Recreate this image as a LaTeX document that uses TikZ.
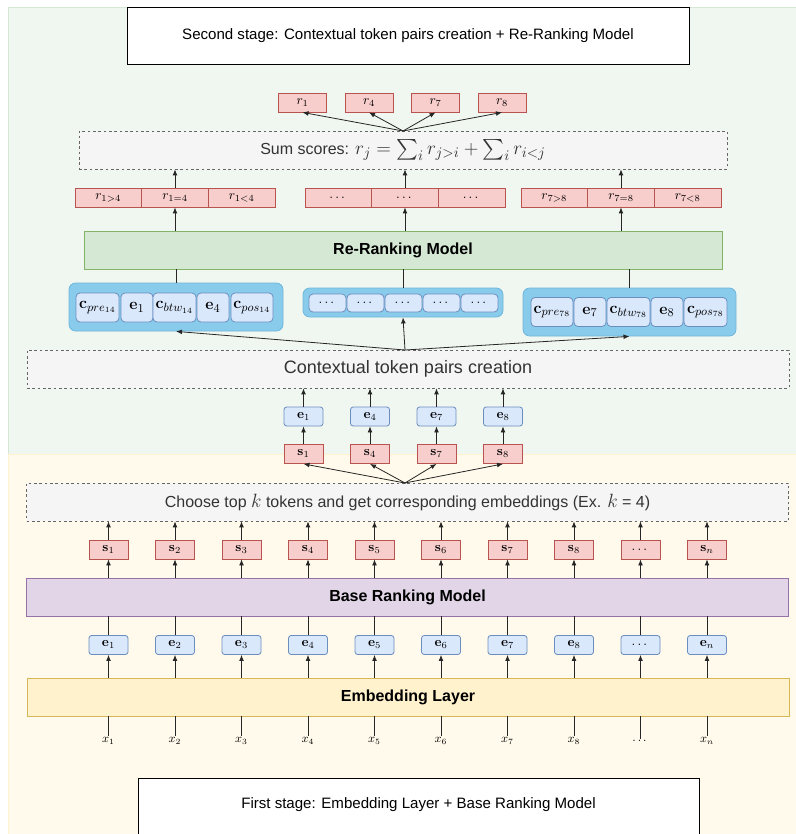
\documentclass[tikz,border=0pt]{standalone}
\usepackage{amsmath}
\usepackage{amssymb}
\usepackage[no-math]{fontspec}
\setmainfont{Liberation Sans}
\usetikzlibrary{arrows.meta}
\tikzset{>={Latex[length=4.5pt,width=3.6pt]}}

\definecolor{redfill}{HTML}{F8CECC}
\definecolor{redline}{HTML}{B85450}
\definecolor{bluefill}{HTML}{DAE8FC}
\definecolor{blueline}{HTML}{6C8EBF}
\definecolor{greenfill}{HTML}{D5E8D4}
\definecolor{greenline}{HTML}{82B366}
\definecolor{purplefill}{HTML}{E1D5E7}
\definecolor{purpleline}{HTML}{9673A6}
\definecolor{yellowfill}{HTML}{FFF2CC}
\definecolor{yellowline}{HTML}{D6B656}
\definecolor{grayfill}{HTML}{F5F5F5}
\definecolor{grayline}{HTML}{666666}
\definecolor{graytext}{HTML}{333333}
\definecolor{groupfill}{HTML}{88CBEA}
\definecolor{groupline}{HTML}{6FB5DD}

\tikzset{
  redbox/.style={draw=redline, fill=redfill, line width=0.6pt, inner sep=0pt,
    minimum width=29.25pt, minimum height=14.25pt, font=\fontsize{10}{11}\selectfont},
  bluebox/.style={redbox, draw=blueline, fill=bluefill, rounded corners=2pt},
  redcell/.style={redbox, minimum width=50pt},
  ccell/.style={draw=blueline, fill=bluefill, line width=0.6pt, rounded corners=3pt,
    inner sep=0pt, minimum height=21.75pt, font=\fontsize{12.5}{13}\selectfont},
  cgroup/.style={draw=groupline, fill=groupfill, line width=0.6pt, rounded corners=5pt},
  layer/.style={line width=0.6pt, minimum width=571.5pt, minimum height=28.5pt,
    font=\bfseries\fontsize{12}{14}\selectfont},
  dashbox/.style={draw=grayline, fill=grayfill, text=graytext, dash pattern=on 2pt off 2pt,
    line width=0.5pt, minimum width=571.5pt, minimum height=28.5pt,
    font=\fontsize{12}{14}\selectfont},
  xlab/.style={inner sep=1pt, font=\fontsize{9}{10}\selectfont},
  link/.style={draw=black!85, line width=0.6pt},
}

\begin{document}
\begin{tikzpicture}[x=0.75pt,y=-0.75pt]
\useasboundingbox (0,0) rectangle (795,834);

% two stages
\draw[draw=greenfill, fill=greenfill!35, line width=0.6pt] (8,7) rectangle (805,454);
\draw[draw=yellowfill, fill=yellowfill!40, line width=0.6pt] (8,454) rectangle (805,845);

\node[draw=black, fill=white, line width=0.6pt, minimum width=421.5pt, minimum height=42.75pt,
  font=\fontsize{11.3}{13}\selectfont] (stage2) at (408,35.5)
  {Second stage: Contextual token pairs creation + Re-Ranking Model};
\draw[draw=black, fill=white, line width=0.6pt] (138,778) rectangle (699,845);
\node[font=\fontsize{11.3}{13}\selectfont] (stage1) at (418.5,805)
  {First stage: Embedding Layer + Base Ranking Model};

% layers
\node[layer, draw=yellowline, fill=yellowfill] (emb) at (408,697) {Embedding Layer};
\node[layer, draw=purpleline, fill=purplefill] (base) at (407.5,597) {Base Ranking Model};
\node[dashbox] (choose) at (407.5,502)
  {Choose top {\fontsize{14}{14}\selectfont$k$} tokens and get corresponding embeddings
   (Ex. {\fontsize{14}{14}\selectfont$k$} = 4)};
\node[dashbox, font=\fontsize{13.5}{15}\selectfont] (ctx) at (408,369)
  {Contextual token pairs creation};
\node[layer, draw=greenline, fill=greenfill, minimum width=478.5pt] (rr) at (403,250)
  {Re-Ranking Model};
\node[dashbox, minimum width=486pt] (sum) at (403,150)
  {Sum scores: {\fontsize{15.5}{16}\selectfont$r_j = \sum_i r_{j>i} + \sum_i r_{i<j}$}};

\coordinate (chs) at (405,483);
\coordinate (cts) at (405,350);
\coordinate (sms) at (403,131);

% first stage: all tokens
\foreach \k [count=\i] in {1,2,3,4,5,6,7,8,0,n} {
  \ifnum\i=9
    \def\sl{$\dots$}\def\el{$\dots$}\def\xl{$\dots$}
  \else
    \def\sl{$\mathbf{s}_\k$}\def\el{$\mathbf{e}_\k$}\def\xl{$x_\k$}
  \fi
  \node[redbox] (s\i) at (42+66.5*\i,549.5) {\sl};
  \node[bluebox] (e\i) at (42+66.5*\i,645) {\el};
  \node[xlab] (x\i) at (42+66.5*\i,741) {\xl};
  \draw[link] (x\i) -- (emb.south -| x\i);
  \draw[link,->] (emb.north -| e\i) -- (e\i);
  \draw[link] (e\i) -- (base.south -| e\i);
  \draw[link,->] (base.north -| s\i) -- (s\i);
  \draw[link,->] (s\i) -- (choose.south -| s\i);
}

% top k tokens and final scores
\foreach \k [count=\i] in {1,4,7,8} {
  \node[redbox] (ts\i) at (237+66.5*\i,454) {$\mathbf{s}_\k$};
  \node[bluebox] (te\i) at (237+66.5*\i,416.5) {$\mathbf{e}_\k$};
  \node[redbox, minimum width=36pt] (r\i) at (236+66.5*\i,102.5) {$r_\k$};
  \draw[link,->] (chs) -- (ts\i.south);
  \draw[link,->] (ts\i) -- (te\i);
  \draw[link,->] (te\i) -- (ctx.south -| te\i);
  \draw[link,->] (sms) -- (r\i.south);
}

% contextual pairs
\node[cgroup, minimum width=160.5pt, minimum height=36pt] (g1) at (176,307) {};
\node[cgroup, minimum width=150pt, minimum height=21.75pt] (g2) at (403,302.5) {};
\node[cgroup, minimum width=159.75pt, minimum height=36pt] (g3) at (629.5,312) {};

\foreach \x/\w/\lab [count=\i] in {97.5/43/{$\mathbf{c}_{pre_{14}}$}, 137/32/{$\mathbf{e}_1$},
    174.5/43/{$\mathbf{c}_{btw_{14}}$}, 213/32/{$\mathbf{e}_4$}, 252/42/{$\mathbf{c}_{pos_{14}}$}}
  \node[ccell, minimum width=\w*0.75pt] (ca\i) at (\x,307.5) {\lab};
\foreach \x [count=\i] in {327.5,365.5,403.5,441.5,479.5}
  \node[ccell, minimum width=27.75pt, minimum height=13.5pt, font=\fontsize{10}{11}\selectfont]
    (cb\i) at (\x,303) {$\dots$};
\foreach \x/\w/\lab [count=\i] in {552/42/{$\mathbf{c}_{pre_{78}}$}, 590/32/{$\mathbf{e}_7$},
    628.5/43/{$\mathbf{c}_{btw_{78}}$}, 667/32/{$\mathbf{e}_8$}, 705.5/43/{$\mathbf{c}_{pos_{78}}$}}
  \node[ccell, minimum width=\w*0.75pt] (cc\i) at (\x,312) {\lab};

\foreach \g in {1,2,3} {
  \draw[link,->] (cts) -- (g\g.south);
  \draw[link] (g\g) -- (rr.south -| g\g);
}

% pair scores
\foreach \m/\a/\b/\c [count=\g] in {175/{$r_{1>4}$}/{$r_{1=4}$}/{$r_{1<4}$},
    405/{$\dots$}/{$\dots$}/{$\dots$}, 621/{$r_{7>8}$}/{$r_{7=8}$}/{$r_{7<8}$}} {
  \node[redcell] (ra\g) at (\m-66.7,197.5) {\a};
  \node[redcell] (rb\g) at (\m,197.5) {\b};
  \node[redcell] (rc\g) at (\m+66.7,197.5) {\c};
  \draw[link,->] (rr.north -| rb\g) -- (rb\g);
  \draw[link,->] (rb\g) -- (sum.south -| rb\g);
}

\end{tikzpicture}
\end{document}
